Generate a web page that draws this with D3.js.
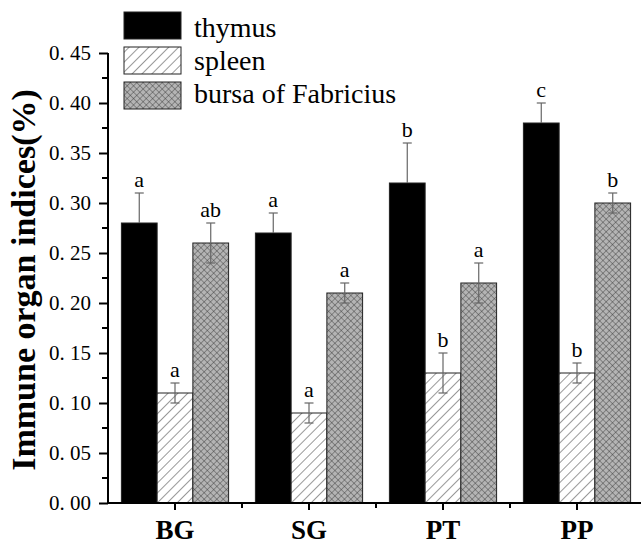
<!DOCTYPE html>
<html>
<head>
<meta charset="utf-8">
<script src="https://cdn.jsdelivr.net/npm/d3@7"></script>
<style>
  body { margin: 0; background: #fff; }
</style>
</head>
<body>
<script>
// data
var groups = ["BG", "SG", "PT", "PP"];
var series = ["thymus", "spleen", "bursa of Fabricius"];
var thymus = [0.28, 0.27, 0.32, 0.38];
var spleen = [0.11, 0.09, 0.13, 0.13];
var bursa = [0.26, 0.21, 0.22, 0.30];
var thymusErr = [0.03, 0.02, 0.04, 0.02];
var spleenErr = [0.01, 0.01, 0.02, 0.01];
var bursaErr = [0.02, 0.01, 0.02, 0.01];
var thymusSig = ["a", "a", "b", "c"];
var spleenSig = ["a", "a", "b", "b"];
var bursaSig = ["ab", "a", "a", "b"];
var yTicks = [0, 0.05, 0.10, 0.15, 0.20, 0.25, 0.30, 0.35, 0.40, 0.45];

var serif = "Liberation Serif, DejaVu Serif, serif";
var width = 641, height = 544;
var margin = { top: 53, left: 108 };

var svg = d3.select("body").append("svg")
  .attr("width", width)
  .attr("height", height)
  .style("font-family", serif);

var defs = svg.append("defs");
// diagonal hatch for spleen
var p1 = defs.append("pattern")
  .attr("id", "hatch")
  .attr("patternUnits", "userSpaceOnUse")
  .attr("width", 7).attr("height", 7)
  .attr("patternTransform", "rotate(45)");
p1.append("rect").attr("width", 7).attr("height", 7).attr("fill", "#fff");
p1.append("line").attr("x1", 0).attr("y1", 0).attr("x2", 0).attr("y2", 7)
  .attr("stroke", "#333").attr("stroke-width", 1);
// cross hatch for bursa
var p2 = defs.append("pattern")
  .attr("id", "cross")
  .attr("patternUnits", "userSpaceOnUse")
  .attr("width", 4.5).attr("height", 4.5)
  .attr("patternTransform", "rotate(45)");
p2.append("rect").attr("width", 4.5).attr("height", 4.5).attr("fill", "#b4b4b4");
p2.append("line").attr("x1", 0).attr("y1", 0).attr("x2", 0).attr("y2", 4.5)
  .attr("stroke", "#333").attr("stroke-width", 0.8);
p2.append("line").attr("x1", 0).attr("y1", 0).attr("x2", 4.5).attr("y2", 0)
  .attr("stroke", "#333").attr("stroke-width", 0.8);

var fills = ["#000", "url(#hatch)", "url(#cross)"];

var plotW = 536;
var plotH = 450;

var x = d3.scaleBand().domain(groups).range([0, plotW]).paddingInner(0.2).paddingOuter(0.1);
var y = d3.scaleLinear().domain([0, 0.45]).range([plotH, 0]);
var xSub = d3.scaleBand().domain(series).range([0, x.bandwidth()]);

var g = svg.append("g")
  .attr("transform", "translate(" + margin.left + "," + margin.top + ")");

var rows = groups.map(function (k, i) {
  return {
    group: k,
    values: [
      { key: series[0], v: thymus[i], e: thymusErr[i], s: thymusSig[i], idx: 0 },
      { key: series[1], v: spleen[i], e: spleenErr[i], s: spleenSig[i], idx: 1 },
      { key: series[2], v: bursa[i], e: bursaErr[i], s: bursaSig[i], idx: 2 }
    ]
  };
});

var layer = g.selectAll("g.layer")
  .data(rows)
  .enter().append("g")
  .attr("class", "layer")
  .attr("transform", function (d) { return "translate(" + x(d.group) + ",0)"; });

var bar = layer.selectAll("g.bar")
  .data(function (d) { return d.values; })
  .enter().append("g")
  .attr("class", "bar");

bar.append("rect")
  .attr("x", function (d) { return xSub(d.key); })
  .attr("y", function (d) { return y(d.v); })
  .attr("width", xSub.bandwidth())
  .attr("height", function (d) { return plotH - y(d.v); })
  .attr("fill", function (d) { return fills[d.idx]; })
  .attr("stroke", "#222")
  .attr("stroke-width", 1);

// error bars (lower half hidden on the black bars)
var cx = function (d) { return xSub(d.key) + xSub.bandwidth() / 2; };
var low = function (d) { return d.idx == 0 ? y(d.v) : y(d.v - d.e); };
bar.append("line")
  .attr("x1", cx).attr("x2", cx)
  .attr("y1", function (d) { return y(d.v + d.e); })
  .attr("y2", low)
  .attr("stroke", "#666").attr("stroke-width", 1.2);
bar.append("line")
  .attr("x1", function (d) { return cx(d) - 4.5; })
  .attr("x2", function (d) { return cx(d) + 4.5; })
  .attr("y1", function (d) { return y(d.v + d.e); })
  .attr("y2", function (d) { return y(d.v + d.e); })
  .attr("stroke", "#666").attr("stroke-width", 1.2);
bar.filter(function (d) { return d.idx > 0; }).append("line")
  .attr("x1", function (d) { return cx(d) - 4.5; })
  .attr("x2", function (d) { return cx(d) + 4.5; })
  .attr("y1", function (d) { return y(d.v - d.e); })
  .attr("y2", function (d) { return y(d.v - d.e); })
  .attr("stroke", "#666").attr("stroke-width", 1.2);

bar.append("text")
  .attr("x", cx)
  .attr("y", function (d) { return y(d.v + d.e) - 6; })
  .attr("text-anchor", "middle")
  .style("font-family", serif)
  .attr("font-size", 22)
  .text(function (d) { return d.s; });

// y axis
var yAxis = g.append("g")
  .call(d3.axisLeft(y).tickValues(yTicks).tickSize(9)
    .tickFormat(function (d) { return d3.format(".2f")(d).replace(".", ". "); }));
yAxis.attr("font-family", null);
yAxis.select(".domain").attr("stroke-width", 2).attr("d", "M0," + plotH + "V0");
yAxis.selectAll(".tick line").attr("stroke-width", 2);
yAxis.selectAll(".tick text")
  .style("font-family", serif)
  .attr("font-size", 21)
  .attr("fill", "#000")
  .attr("x", -17);
// minor y ticks
g.append("g").selectAll("line")
  .data(yTicks.slice(0, -1).map(function (t) { return t + 0.025; }))
  .enter().append("line")
  .attr("x1", -6).attr("x2", 0)
  .attr("y1", function (d) { return y(d); }).attr("y2", function (d) { return y(d); })
  .attr("stroke", "#000").attr("stroke-width", 2);

// x axis
var xAxis = g.append("g")
  .attr("transform", "translate(0," + plotH + ")")
  .call(d3.axisBottom(x).tickSize(7));
xAxis.attr("font-family", null);
xAxis.select(".domain").attr("stroke-width", 2).attr("d", "M0,0H" + plotW);
xAxis.selectAll(".tick line").attr("stroke-width", 2);
xAxis.selectAll(".tick text")
  .style("font-family", serif)
  .attr("font-size", 27)
  .attr("font-weight", "bold")
  .attr("fill", "#000")
  .attr("y", 17);
// minor x ticks between groups
g.append("g").selectAll("line")
  .data(groups.slice(1))
  .enter().append("line")
  .attr("x1", function (d) { return x(d) - x.step() * x.paddingInner() / 2; })
  .attr("x2", function (d) { return x(d) - x.step() * x.paddingInner() / 2; })
  .attr("y1", plotH).attr("y2", plotH + 5)
  .attr("stroke", "#000").attr("stroke-width", 2);

// y title
svg.append("text")
  .attr("transform", "translate(35,280) rotate(-90)")
  .attr("text-anchor", "middle")
  .style("font-family", serif)
  .attr("font-size", 34)
  .attr("font-weight", "bold")
  .text("Immune organ indices(%)");

// legend
var legend = svg.append("g").attr("transform", "translate(124,12)");
var li = legend.selectAll("g")
  .data(series)
  .enter().append("g");
li.append("rect")
  .attr("y", function (d, i) { return i * 35; })
  .attr("width", 57).attr("height", 27)
  .attr("fill", function (d, i) { return fills[i]; })
  .attr("stroke", "#222").attr("stroke-width", 1);
li.append("text")
  .attr("x", 70)
  .attr("y", function (d, i) { return 25 + i * 33; })
  .style("font-family", serif)
  .attr("font-size", 28)
  .text(function (d) { return d; });
</script>
</body>
</html>
